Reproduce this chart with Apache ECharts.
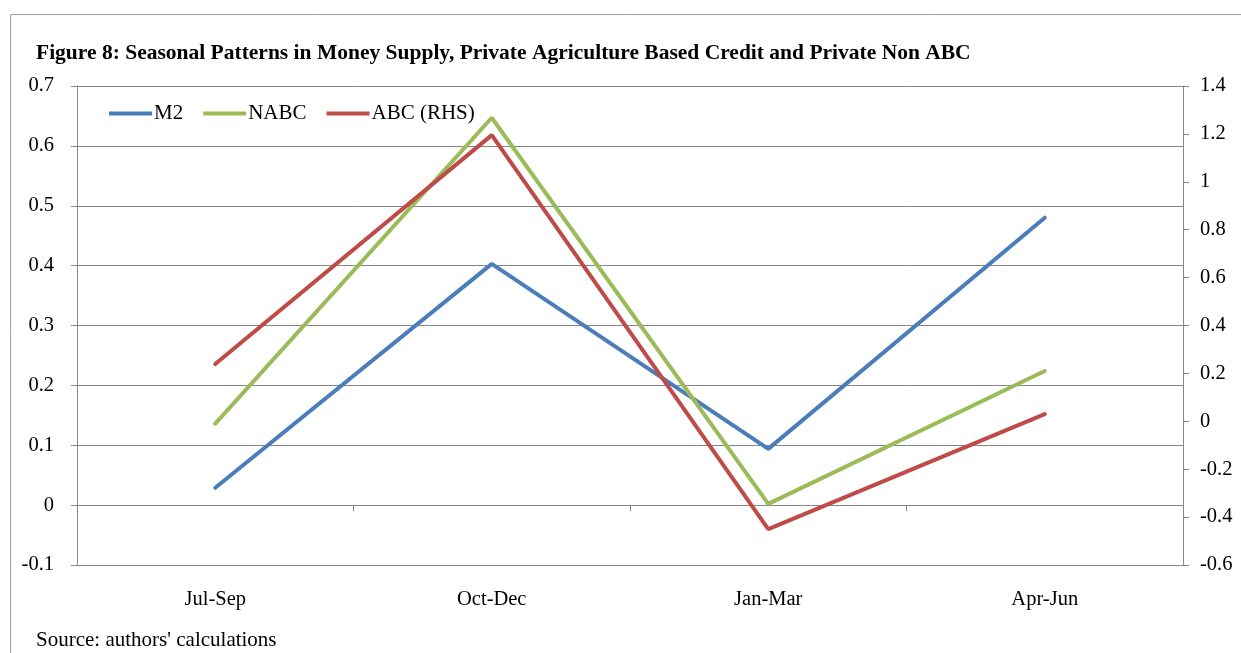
<!DOCTYPE html>
<html><head><meta charset="utf-8">
<script src="https://cdn.jsdelivr.net/npm/echarts@6/dist/echarts.min.js"></script>
<style>html,body{margin:0;padding:0;background:#fff}#c{width:1241px;height:653px}</style>
</head><body><div id="c"></div>
<script>
const categories = ['Jul-Sep', 'Oct-Dec', 'Jan-Mar', 'Apr-Jun'];
const m2 = [0.029, 0.403, 0.094, 0.480];
const nabc = [0.136, 0.647, 0.002, 0.224];
const abc = [0.239, 1.195, -0.450, 0.030];
const leftTicks = { min: -0.1, max: 0.7, interval: 0.1 };
const rightTicks = { min: -0.6, max: 1.4, interval: 0.2 };

const F = '"Liberation Serif", "Times New Roman", serif';
const axisGray = '#868686';
const chart = echarts.init(document.getElementById('c'));
chart.setOption({
  animation: false,
  backgroundColor: '#fff',
  graphic: [
    { type: 'rect', shape: { x: 10.5, y: 14.5, width: 1240, height: 650 }, style: { fill: 'none', stroke: '#a0a0a0', lineWidth: 1 }, silent: true },
    { type: 'text', left: 36, top: 42, style: { text: 'Figure 8: Seasonal Patterns in Money Supply, Private Agriculture Based Credit and Private Non ABC', font: 'bold 21.5px ' + F, fill: '#000' } },
    { type: 'text', left: 36, top: 630, style: { text: "Source: authors' calculations", font: '21px ' + F, fill: '#000' } }
  ],
  legend: {
    left: 104, top: 98, itemWidth: 43, itemHeight: 4, itemGap: 20,
    icon: 'rect',
    textStyle: { fontFamily: F, fontSize: 21, color: '#000', padding: [0, 0, 0, -3] },
    data: ['M2', 'NABC', 'ABC (RHS)']
  },
  grid: { left: 77, right: 58, top: 86, bottom: 88, containLabel: false, show: false },
  xAxis: [
    {
      type: 'category', data: categories, boundaryGap: true,
      axisLine: { show: false }, axisTick: { show: false },
      axisLabel: { fontFamily: F, fontSize: 20.5, color: '#000', margin: 24 },
      splitLine: { show: false }
    },
    {
      type: 'category', data: categories, boundaryGap: true, position: 'bottom',
      axisLine: { show: true, onZero: true, onZeroAxisIndex: 0, lineStyle: { color: axisGray, width: 1 } },
      axisTick: { show: true, length: 6, lineStyle: { color: axisGray } },
      axisLabel: { show: false }, splitLine: { show: false }
    }
  ],
  yAxis: [
    {
      type: 'value', position: 'left', min: leftTicks.min, max: leftTicks.max, interval: leftTicks.interval,
      axisLine: { show: true, lineStyle: { color: axisGray } },
      axisTick: { show: true, length: 6, lineStyle: { color: axisGray } },
      axisLabel: { fontFamily: F, fontSize: 20.5, color: '#000', margin: 23,
        formatter: v => String(Math.round(v * 10) / 10) },
      splitLine: { show: true, lineStyle: { color: axisGray, width: 1 } }
    },
    {
      type: 'value', position: 'right', min: rightTicks.min, max: rightTicks.max, interval: rightTicks.interval,
      axisLine: { show: true, lineStyle: { color: axisGray } },
      axisTick: { show: true, length: 6, lineStyle: { color: axisGray } },
      axisLabel: { fontFamily: F, fontSize: 20.5, color: '#000', margin: 17,
        formatter: v => String(Math.round(v * 10) / 10) },
      splitLine: { show: false }
    }
  ],
  series: [
    { name: 'M2', type: 'line', data: m2, yAxisIndex: 0, symbol: 'none', color: '#4A7EBB', lineStyle: { width: 4, color: '#4A7EBB', cap: 'round' } },
    { name: 'NABC', type: 'line', data: nabc, yAxisIndex: 0, symbol: 'none', color: '#9BBB59', lineStyle: { width: 4, color: '#9BBB59', cap: 'round' } },
    { name: 'ABC (RHS)', type: 'line', data: abc, yAxisIndex: 1, symbol: 'none', color: '#BE4B48', lineStyle: { width: 4, color: '#BE4B48', cap: 'round' } }
  ]
});
</script></body></html>
